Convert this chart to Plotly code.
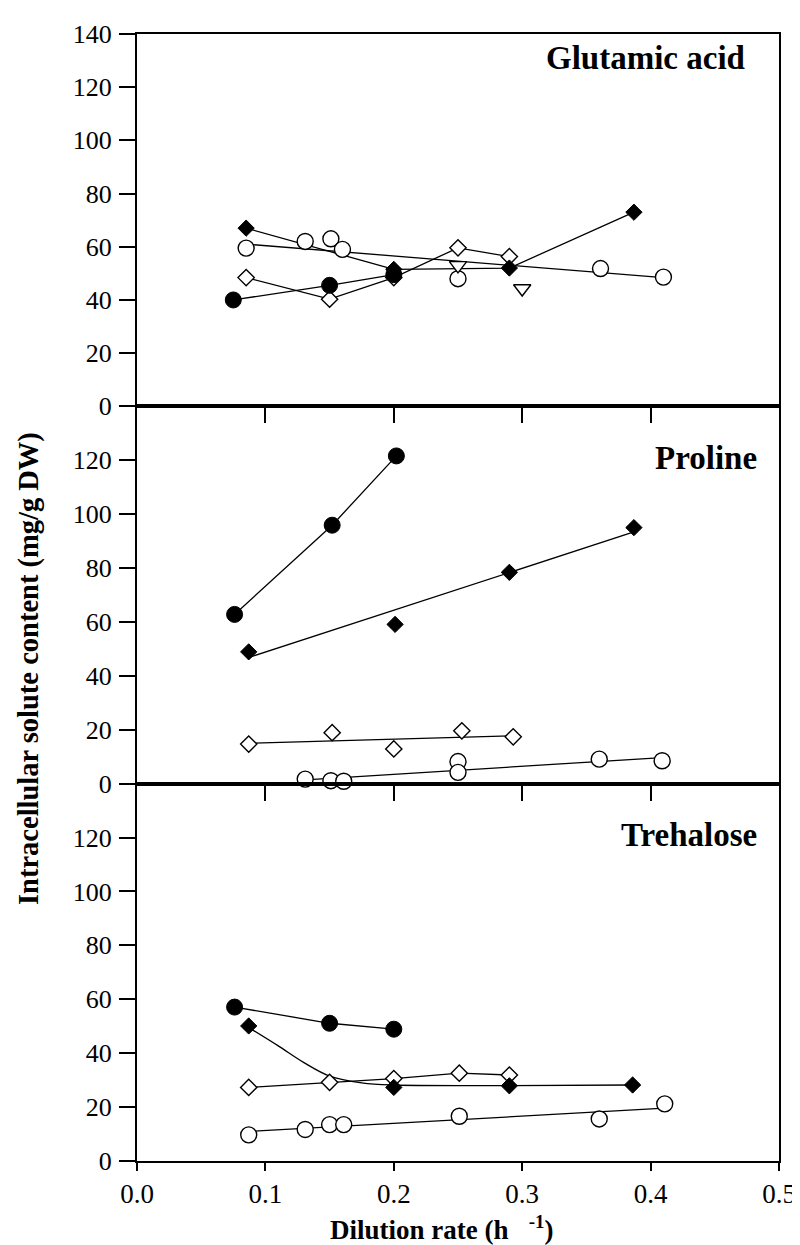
import plotly.graph_objects as go
from plotly.subplots import make_subplots

# Glutamic acid
glu_fc_x = [0.075, 0.15, 0.20]
glu_fc_y = [40, 45.5, 49.5]
glu_fd_x = [0.085, 0.20, 0.29, 0.387]
glu_fd_y = [67, 51.5, 52, 73]
glu_oc_x = [0.085, 0.131, 0.151, 0.160, 0.250, 0.361, 0.410]
glu_oc_y = [59.5, 62, 63, 59, 48, 51.8, 48.6]
glu_oc_fit_x = [0.085, 0.41]
glu_oc_fit_y = [61, 48.4]
glu_od_x = [0.085, 0.15, 0.20, 0.25, 0.29]
glu_od_y = [48.4, 40.3, 48.4, 59.6, 56.3]
glu_tri_x = [0.25, 0.30]
glu_tri_y = [53, 44.3]

# Proline
pro_fc_x = [0.076, 0.152, 0.202]
pro_fc_y = [62.8, 95.9, 121.6]
pro_fd_x = [0.087, 0.201, 0.290, 0.387]
pro_fd_y = [48.9, 59.1, 78.4, 95.0]
pro_fd_fit_x = [0.087, 0.387]
pro_fd_fit_y = [46.8, 93.4]
pro_od_x = [0.087, 0.152, 0.200, 0.253, 0.293]
pro_od_y = [14.7, 18.9, 12.9, 19.6, 17.4]
pro_od_fit_x = [0.087, 0.293]
pro_od_fit_y = [15.0, 17.8]
pro_oc_x = [0.131, 0.151, 0.161, 0.250, 0.250, 0.360, 0.409]
pro_oc_y = [1.7, 1.1, 0.9, 8.2, 4.2, 9.1, 8.5]
pro_oc_fit_x = [0.131, 0.409]
pro_oc_fit_y = [1.4, 9.7]

# Trehalose
tre_fc_x = [0.076, 0.150, 0.200]
tre_fc_y = [57.1, 51.1, 48.9]
tre_fd_x = [0.087, 0.200, 0.290, 0.386]
tre_fd_y = [50.1, 27.3, 27.9, 28.2]
tre_fd_curve_x = [0.087, 0.11, 0.13, 0.15, 0.175, 0.20, 0.29, 0.386]
tre_fd_curve_y = [49.5, 42.7, 36.5, 31.5, 29.0, 28.2, 28.0, 28.2]
tre_od_x = [0.087, 0.150, 0.200, 0.251, 0.290]
tre_od_y = [27.3, 29.2, 30.6, 32.6, 31.9]
tre_oc_x = [0.087, 0.131, 0.150, 0.161, 0.251, 0.360, 0.411]
tre_oc_y = [9.7, 11.7, 13.5, 13.5, 16.6, 15.6, 21.2]
tre_oc_fit_x = [0.087, 0.411]
tre_oc_fit_y = [11.0, 19.6]

panel_names = ["Glutamic acid", "Proline", "Trehalose"]
x_ticks = [0.0, 0.1, 0.2, 0.3, 0.4, 0.5]

FONT = "Liberation Serif, Times New Roman, DejaVu Serif, serif"

MARKERS = {
    "fc": dict(symbol="circle", size=16, color="black", line=dict(color="black", width=1)),
    "oc": dict(symbol="circle", size=16, color="white", line=dict(color="black", width=1.4)),
    "fd": dict(symbol="diamond", size=12.5, color="black", line=dict(color="black", width=1)),
    "od": dict(symbol="diamond", size=12.5, color="white", line=dict(color="black", width=1.4)),
    "tri": dict(symbol="triangle-down", size=15, color="white", line=dict(color="black", width=1.4)),
}


def add_line(fig, x, y, row, shape="linear"):
    fig.add_trace(go.Scatter(
        x=x, y=y, mode="lines", line=dict(color="black", width=1.3, shape=shape, smoothing=1.0),
        showlegend=False, hoverinfo="skip", cliponaxis=False
    ), row=row, col=1)


def add_points(fig, x, y, kind, row, connect=False):
    fig.add_trace(go.Scatter(
        x=x, y=y, mode="lines+markers" if connect else "markers",
        line=dict(color="black", width=1.3), marker=MARKERS[kind],
        showlegend=False, cliponaxis=False
    ), row=row, col=1)


fig = make_subplots(rows=3, cols=1, shared_xaxes=True, vertical_spacing=0,
                    row_heights=[373, 378, 378])

# Glutamic acid
add_line(fig, glu_oc_fit_x, glu_oc_fit_y, 1)
add_points(fig, glu_od_x, glu_od_y, "od", 1, connect=True)
add_points(fig, glu_fc_x, glu_fc_y, "fc", 1, connect=True)
add_points(fig, glu_fd_x, glu_fd_y, "fd", 1, connect=True)
add_points(fig, glu_oc_x, glu_oc_y, "oc", 1)
add_points(fig, glu_tri_x, glu_tri_y, "tri", 1)

# Proline
add_line(fig, pro_fd_fit_x, pro_fd_fit_y, 2)
add_line(fig, pro_od_fit_x, pro_od_fit_y, 2)
add_line(fig, pro_oc_fit_x, pro_oc_fit_y, 2)
add_points(fig, pro_fc_x, pro_fc_y, "fc", 2, connect=True)
add_points(fig, pro_fd_x, pro_fd_y, "fd", 2)
add_points(fig, pro_od_x, pro_od_y, "od", 2)
add_points(fig, pro_oc_x, pro_oc_y, "oc", 2)

# Trehalose
add_line(fig, tre_fd_curve_x, tre_fd_curve_y, 3, shape="spline")
add_line(fig, tre_oc_fit_x, tre_oc_fit_y, 3)
add_points(fig, tre_od_x, tre_od_y, "od", 3, connect=True)
add_points(fig, tre_fc_x, tre_fc_y, "fc", 3, connect=True)
add_points(fig, tre_fd_x, tre_fd_y, "fd", 3)
add_points(fig, tre_oc_x, tre_oc_y, "oc", 3)

axis_common = dict(showline=True, linecolor="black", linewidth=2, mirror=True,
                   showgrid=False, zeroline=False, ticks="outside", tickcolor="black",
                   tickwidth=2)

for r in (1, 2, 3):
    fig.update_yaxes(range=[0, 140], tickvals=list(range(0, 141 if r == 1 else 121, 20)),
                     ticklen=16, ticklabelstandoff=2,
                     tickfont=dict(family=FONT, size=26, color="black"),
                     **axis_common, row=r, col=1)
    if r < 3:
        fig.update_xaxes(range=[0, 0.5], tickvals=x_ticks[1:-1], ticklen=15,
                         showticklabels=False, **axis_common, row=r, col=1)
    else:
        fig.update_xaxes(range=[0, 0.5], tickvals=x_ticks, tickformat=".1f", ticklen=8,
                         ticklabelstandoff=0, showticklabels=True,
                         tickfont=dict(family=FONT, size=27, color="black"),
                         **axis_common, row=r, col=1)

# panel labels
label_y = [131, 121, 121]
label_x = [0.950, 0.969, 0.969]
for i, name in enumerate(panel_names):
    fig.add_annotation(text="<b>%s</b>" % name, xref="paper", yref="y%s" % ("" if i == 0 else i + 1),
                       x=label_x[i], y=label_y[i], xanchor="right", yanchor="middle", showarrow=False,
                       font=dict(family=FONT, size=33, color="black"))

fig.add_annotation(text="<b>Intracellular solute content (mg/g DW)</b>", xref="paper", yref="paper",
                   x=-0.168, y=0.4367, textangle=-90, showarrow=False, xanchor="center", yanchor="middle",
                   font=dict(family=FONT, size=28.5, color="black"))
fig.add_annotation(text="<b>Dilution rate (h   <sup>-1</sup>)</b>", xref="paper", yref="paper",
                   x=0.475, y=-0.0765, showarrow=False, xanchor="center", yanchor="bottom",
                   font=dict(family=FONT, size=27, color="black"))

fig.update_layout(
    width=800, height=1245,
    margin=dict(l=129, r=25, t=24, b=92),
    paper_bgcolor="white", plot_bgcolor="rgba(0,0,0,0)",
    showlegend=False
)

fig.write_html("out.html")
